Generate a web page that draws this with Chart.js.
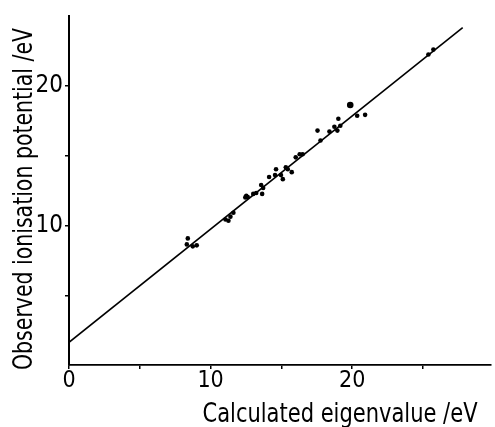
<!DOCTYPE html>
<html>
<head>
<meta charset="utf-8">
<script src="https://cdn.jsdelivr.net/npm/chart.js@4/dist/chart.umd.min.js"></script>
<style>
  html, body { margin: 0; padding: 0; background: #fff; }
  canvas { display: block; }
</style>
</head>
<body>
<canvas id="chart" width="495" height="427"></canvas>
<script>
// Calculated eigenvalue (eV) vs observed ionisation potential (eV)
const calcEigen = [8.39, 8.32, 8.74, 9.02, 11.05, 11.26, 11.40, 11.61, 12.45, 12.52, 12.62, 13.01, 13.22, 13.57, 13.71, 13.64,
  14.13, 14.62, 14.55, 14.97, 15.10, 15.31, 15.45, 15.73, 16.01, 16.29, 16.50, 17.55, 17.76, 18.39, 18.74, 18.95,
  19.02, 19.16, 19.86, 20.35, 20.91, 25.38, 25.73];
const observedIP = [9.08, 8.65, 8.51, 8.58, 10.43, 10.35, 10.64, 10.92, 12.02, 12.13, 12.05, 12.27, 12.34, 12.91, 12.70, 12.27,
  13.48, 14.04, 13.62, 13.62, 13.33, 14.18, 14.04, 13.83, 14.89, 15.11, 15.11, 16.81, 16.10, 16.74, 17.09, 16.81,
  17.66, 17.16, 18.65, 17.87, 17.94, 22.27, 22.62];

// fitted straight line, end points
const fitX = [0, 27.8];
const fitY = [1.63, 24.2];

const xTicksLabelled = [0, 10, 20];
const yTicksLabelled = [10, 20];
const xTitle = 'Calculated eigenvalue /eV';
const yTitle = 'Observed ionisation potential /eV';

const FONT = '"DejaVu Sans Condensed", "DejaVu Sans", sans-serif';

const points = calcEigen.map((x, i) => ({ x: x, y: observedIP[i] }));
const line = fitX.map((x, i) => ({ x: x, y: fitY[i] }));

// draws a title squeezed to a given width, centred on (cx, cy baseline)
function squeezedText(ctx, text, cx, cy, width, angle) {
  ctx.save();
  ctx.translate(cx, cy);
  ctx.rotate(angle);
  const w = ctx.measureText(text).width;
  ctx.scale(Math.min(1, width / w), 1);
  ctx.fillText(text, 0, 0);
  ctx.restore();
}

const axisTitles = {
  id: 'axisTitles',
  afterDraw(chart) {
    const ctx = chart.ctx;
    ctx.save();
    ctx.fillStyle = '#000';
    ctx.font = '26px ' + FONT;
    ctx.textAlign = 'center';
    ctx.textBaseline = 'alphabetic';
    squeezedText(ctx, xTitle, 340, 422, 275, 0);
    squeezedText(ctx, yTitle, 32, 199, 342, -Math.PI / 2);
    ctx.restore();
  }
};

new Chart(document.getElementById('chart'), {
  type: 'scatter',
  data: {
    datasets: [
      {
        label: 'fit',
        type: 'line',
        data: line,
        borderColor: '#000',
        borderWidth: 1.6,
        pointRadius: 0,
        fill: false
      },
      {
        label: 'data',
        data: points,
        backgroundColor: '#000',
        borderColor: '#000',
        borderWidth: 0,
        pointRadius: ctx => (observedIP[ctx.dataIndex] === 18.65 ? 3.3 : 2.3)
      }
    ]
  },
  options: {
    responsive: false,
    animation: false,
    layout: { padding: { top: 13, right: 0, left: 0, bottom: 0 } },
    plugins: { legend: { display: false }, tooltip: { enabled: false } },
    scales: {
      x: {
        type: 'linear',
        min: 0,
        max: 29.8,
        afterFit: s => { s.height = 62; },
        afterBuildTicks: s => { s.ticks = s.ticks.filter(t => t.value % 5 === 0); },
        ticks: {
          stepSize: 5,
          includeBounds: false,
          autoSkip: false,
          maxRotation: 0,
          padding: -2,
          color: '#000',
          font: { family: FONT, size: 23 },
          callback: v => (xTicksLabelled.includes(v) ? String(v) : '')
        },
        grid: { drawOnChartArea: false, drawTicks: true, tickLength: 4, color: '#000', lineWidth: 1.5 },
        border: { display: true, color: '#000', width: 1.8 }
      },
      y: {
        type: 'linear',
        min: 0,
        max: 25,
        afterFit: s => { s.width = 69; },
        afterBuildTicks: s => { s.ticks = s.ticks.filter(t => t.value > 0 && t.value < 25); },
        ticks: {
          stepSize: 5,
          autoSkip: false,
          padding: 2,
          color: '#000',
          font: { family: FONT, size: 24 },
          callback: v => (yTicksLabelled.includes(v) ? String(v) : '')
        },
        grid: { drawOnChartArea: false, drawTicks: true, tickLength: 4, color: '#000', lineWidth: 1.5 },
        border: { display: true, color: '#000', width: 2 }
      }
    }
  },
  plugins: [axisTitles]
});
</script>
</body>
</html>
